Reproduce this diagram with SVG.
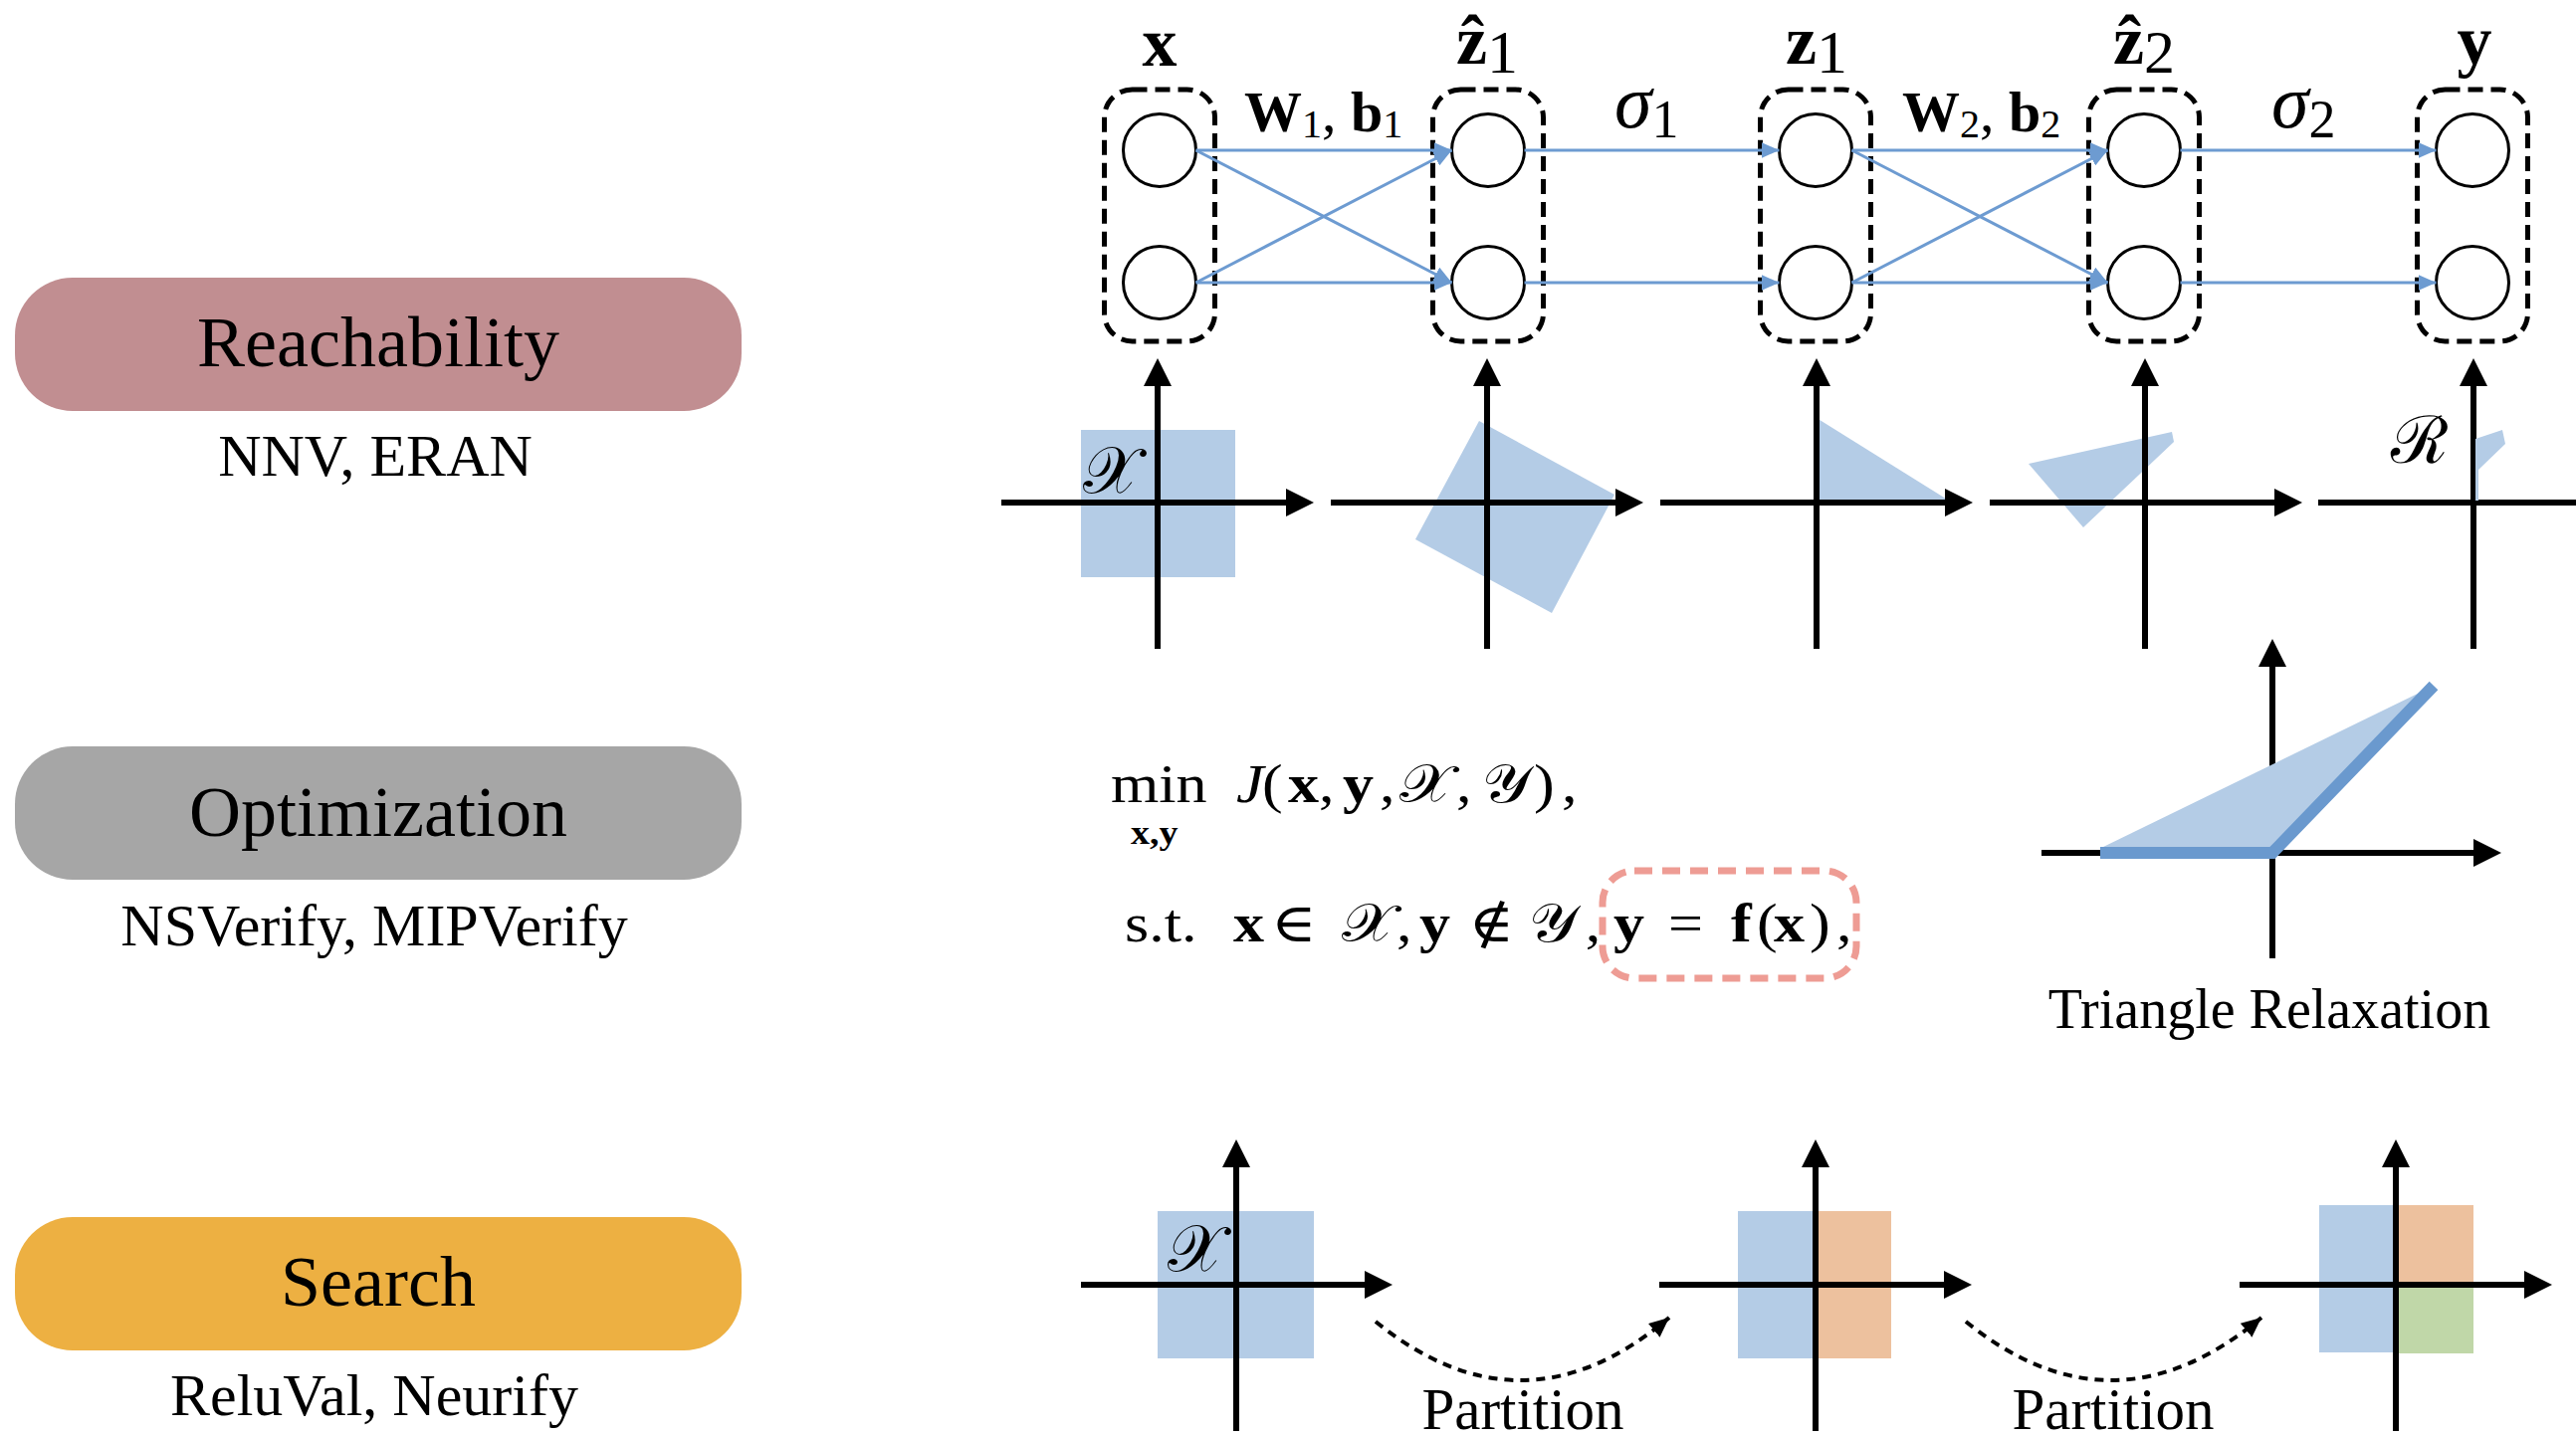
<svg xmlns="http://www.w3.org/2000/svg" width="2588" height="1444" viewBox="0 0 2588 1444">
<style>
.serif{font-family:"Liberation Serif","DejaVu Serif",serif;}
.pill-t{font-size:72px;text-anchor:middle;}
.sub-t{font-size:60px;text-anchor:middle;}
.node{fill:#fff;stroke:#000;stroke-width:3;}
.grp{fill:none;stroke:#000;stroke-width:5;stroke-dasharray:15 8;}
.conn{stroke:#6D9BD1;stroke-width:3;fill:none;marker-end:url(#bh);}
.axis{stroke:#000;stroke-width:6;fill:none;marker-end:url(#ah);}
.reg{fill:#B4CCE6;}
.org{fill:#EDC19E;}
.grn{fill:#C0D7A8;}
.part{stroke:#000;stroke-width:4;stroke-dasharray:9 7;fill:none;marker-end:url(#dh);}
.lbl{font-size:70px;font-weight:bold;}
.scr{font-size:66px;}
</style>
<defs>
<marker id="ah" markerUnits="userSpaceOnUse" markerWidth="28" markerHeight="28" viewBox="0 0 28 28" refX="0" refY="14" orient="auto"><path d="M0,0L28,14L0,28z" fill="#000"/></marker>
<marker id="bh" markerUnits="userSpaceOnUse" markerWidth="18" markerHeight="16" viewBox="0 0 18 16" refX="18" refY="8" orient="auto"><path d="M0,0L18,8L0,16z" fill="#6D9BD1"/></marker>
<marker id="dh" markerUnits="userSpaceOnUse" markerWidth="20" markerHeight="18" viewBox="0 0 20 18" refX="20" refY="9" orient="auto"><path d="M0,0L20,9L0,18z" fill="#000"/></marker>
</defs>
<rect width="2588" height="1444" fill="#fff"/>

<!-- Category pills -->
<g id="reachability" class="serif">
<rect x="15" y="279" width="730" height="134" rx="58" fill="#C18E91"/>
<text x="380" y="368" class="pill-t">Reachability</text>
<text x="377" y="478" class="sub-t">NNV, ERAN</text>
</g>
<g id="optimization" class="serif">
<rect x="15" y="750" width="730" height="134" rx="58" fill="#A6A6A6"/>
<text x="380" y="840" class="pill-t">Optimization</text>
<text x="376" y="950" class="sub-t">NSVerify, MIPVerify</text>
</g>
<g id="search" class="serif">
<rect x="15" y="1223" width="730" height="134" rx="58" fill="#EDB042"/>
<text x="380" y="1312" class="pill-t">Search</text>
<text x="376" y="1422" class="sub-t">ReluVal, Neurify</text>
</g>

<!-- Row 1 reachable sets -->
<g id="reach-sets">
<rect class="reg" x="1086" y="432" width="155" height="148"/>
<polygon class="reg" points="1486,423 1622,497 1559,616 1422,542"/>
<polygon class="reg" points="1825,420 1958,503 1825,503"/>
<polygon class="reg" points="2038,466 2182,434 2184,444 2093,530"/>
<line class="axis" x1="1006" y1="505" x2="1292" y2="505"/>
<line class="axis" x1="1163" y1="652" x2="1163" y2="388"/>
<line class="axis" x1="1337" y1="505" x2="1623" y2="505"/>
<line class="axis" x1="1494" y1="652" x2="1494" y2="388"/>
<line class="axis" x1="1668" y1="505" x2="1954" y2="505"/>
<line class="axis" x1="1825" y1="652" x2="1825" y2="388"/>
<line class="axis" x1="1999" y1="505" x2="2285" y2="505"/>
<line class="axis" x1="2155" y1="652" x2="2155" y2="388"/>
<line class="axis" x1="2329" y1="505" x2="2615" y2="505"/>
<line class="axis" x1="2485" y1="652" x2="2485" y2="388"/>
<polygon class="reg" points="2487,441 2514,432 2517,446 2490,472 2490,503 2487,503"/>
<text class="serif scr" x="1088" y="495">𝒳</text>
<text class="serif scr" x="2402" y="465">ℛ</text>
</g>

<!-- Network nodes -->
<g id="layer-x" class="serif">
<rect class="grp" x="1109.5" y="90" width="111" height="253" rx="28"/>
<circle class="node" cx="1165" cy="151" r="36.5"/>
<circle class="node" cx="1165" cy="284" r="36.5"/>
<text class="lbl" x="1165" y="66" text-anchor="middle">x</text>
</g>
<g id="layer-z1hat" class="serif">
<rect class="grp" x="1439.5" y="90" width="111" height="253" rx="28"/>
<circle class="node" cx="1495" cy="151" r="36.5"/>
<circle class="node" cx="1495" cy="284" r="36.5"/>
<text x="1463" y="64"><tspan class="lbl">ẑ</tspan><tspan font-size="62" dy="9">1</tspan></text>
</g>
<g id="layer-z1" class="serif">
<rect class="grp" x="1768.5" y="90" width="111" height="253" rx="28"/>
<circle class="node" cx="1824" cy="151" r="36.5"/>
<circle class="node" cx="1824" cy="284" r="36.5"/>
<text x="1794" y="64"><tspan class="lbl">z</tspan><tspan font-size="62" dy="9">1</tspan></text>
</g>
<g id="layer-z2hat" class="serif">
<rect class="grp" x="2098.5" y="90" width="111" height="253" rx="28"/>
<circle class="node" cx="2154" cy="151" r="36.5"/>
<circle class="node" cx="2154" cy="284" r="36.5"/>
<text x="2123" y="64"><tspan class="lbl">ẑ</tspan><tspan font-size="62" dy="9">2</tspan></text>
</g>
<g id="layer-y" class="serif">
<rect class="grp" x="2428.5" y="90" width="111" height="253" rx="28"/>
<circle class="node" cx="2484" cy="151" r="36.5"/>
<circle class="node" cx="2484" cy="284" r="36.5"/>
<text class="lbl" x="2486" y="64" text-anchor="middle">y</text>
</g>

<!-- Connectors -->
<g id="connectors">
<line class="conn" x1="1201.5" y1="151" x2="1458.5" y2="151"/>
<line class="conn" x1="1201.5" y1="151" x2="1458.5" y2="284"/>
<line class="conn" x1="1201.5" y1="284" x2="1458.5" y2="151"/>
<line class="conn" x1="1201.5" y1="284" x2="1458.5" y2="284"/>
<line class="conn" x1="1531.5" y1="151" x2="1787.5" y2="151"/>
<line class="conn" x1="1531.5" y1="284" x2="1787.5" y2="284"/>
<line class="conn" x1="1860.5" y1="151" x2="2117.5" y2="151"/>
<line class="conn" x1="1860.5" y1="151" x2="2117.5" y2="284"/>
<line class="conn" x1="1860.5" y1="284" x2="2117.5" y2="151"/>
<line class="conn" x1="1860.5" y1="284" x2="2117.5" y2="284"/>
<line class="conn" x1="2190.5" y1="151" x2="2447.5" y2="151"/>
<line class="conn" x1="2190.5" y1="284" x2="2447.5" y2="284"/>
<path class="part" d="M1382,1328 Q1530,1448 1677,1324"/>
<path class="part" d="M1975,1328 Q2123,1448 2272,1324"/>
</g>

<!-- Edge labels -->
<g id="edge-labels" class="serif">
<text x="1250" y="132" font-size="58"><tspan font-weight="bold">W</tspan><tspan font-size="40" dy="6">1</tspan><tspan dy="-6">, </tspan><tspan font-weight="bold">b</tspan><tspan font-size="40" dy="6">1</tspan></text>
<text x="1622" y="128" font-size="76"><tspan font-style="italic">σ</tspan><tspan font-size="54" dy="10">1</tspan></text>
<text x="1911" y="132" font-size="58"><tspan font-weight="bold">W</tspan><tspan font-size="40" dy="6">2</tspan><tspan dy="-6">, </tspan><tspan font-weight="bold">b</tspan><tspan font-size="40" dy="6">2</tspan></text>
<text x="2282" y="128" font-size="76"><tspan font-style="italic">σ</tspan><tspan font-size="54" dy="10">2</tspan></text>
</g>

<!-- Optimization formula -->
<g id="formula" class="serif" transform="scale(1.15,1)" font-size="54">
<text y="806"><tspan x="970.4">min</tspan><tspan x="1080" font-style="italic">J</tspan><tspan x="1102.6">(</tspan><tspan x="1125.2" font-weight="bold">x</tspan><tspan x="1152.2">,</tspan><tspan x="1173" font-weight="bold">y</tspan><tspan x="1205.2">,</tspan><tspan x="1223">𝒳</tspan><tspan x="1272.2">,</tspan><tspan x="1295">𝒴</tspan><tspan x="1340">)</tspan><tspan x="1364.3">,</tspan></text>
<text x="987.8" y="848" font-size="33" font-weight="bold">x,y</text>
<text y="946"><tspan x="982.6">s.t.</tspan><tspan x="1077.4" font-weight="bold">x</tspan><tspan x="1110.4">∈</tspan><tspan x="1172">𝒳</tspan><tspan x="1220">,</tspan><tspan x="1240" font-weight="bold">y</tspan><tspan x="1283">∉</tspan><tspan x="1336">𝒴</tspan><tspan x="1385">,</tspan><tspan x="1409.6" font-weight="bold">y</tspan><tspan x="1457.4">=</tspan><tspan x="1512.2" font-weight="bold">f</tspan><tspan x="1534.8">(</tspan><tspan x="1549.6" font-weight="bold">x</tspan><tspan x="1580.9">)</tspan><tspan x="1604.3">,</tspan></text>
</g>
<rect id="highlight" x="1610" y="875" width="255" height="108" rx="32" fill="none" stroke="#EE9C94" stroke-width="7" stroke-dasharray="18 10"/>

<!-- Triangle relaxation -->
<g id="triangle-relaxation">
<line class="axis" x1="2051" y1="857" x2="2485" y2="857"/>
<line class="axis" x1="2283" y1="963" x2="2283" y2="670"/>
<polygon class="reg" points="2111,852 2437,693 2283,857"/>
<polyline points="2110,857 2283,857 2445,689" fill="none" stroke="#6A99CE" stroke-width="12"/>
<text class="serif" x="2280" y="1033" font-size="56" text-anchor="middle">Triangle Relaxation</text>
</g>

<!-- Search partitions -->
<g id="search-sets">
<rect class="reg" x="1163" y="1217" width="157" height="148"/>
<rect class="reg" x="1746" y="1217" width="78" height="148"/>
<rect class="org" x="1824" y="1217" width="76" height="148"/>
<rect class="reg" x="2330" y="1211" width="77" height="148"/>
<rect class="org" x="2407" y="1211" width="78" height="80"/>
<rect class="grn" x="2407" y="1291" width="78" height="69"/>
<line class="axis" x1="1086" y1="1291" x2="1371" y2="1291"/>
<line class="axis" x1="1242" y1="1438" x2="1242" y2="1173"/>
<line class="axis" x1="1667" y1="1291" x2="1953" y2="1291"/>
<line class="axis" x1="1824" y1="1438" x2="1824" y2="1173"/>
<line class="axis" x1="2250" y1="1291" x2="2536" y2="1291"/>
<line class="axis" x1="2407" y1="1438" x2="2407" y2="1173"/>
<text class="serif scr" x="1173" y="1277">𝒳</text>
<text class="serif" x="1530" y="1436" font-size="59" text-anchor="middle">Partition</text>
<text class="serif" x="2123" y="1436" font-size="59" text-anchor="middle">Partition</text>
</g>
</svg>
